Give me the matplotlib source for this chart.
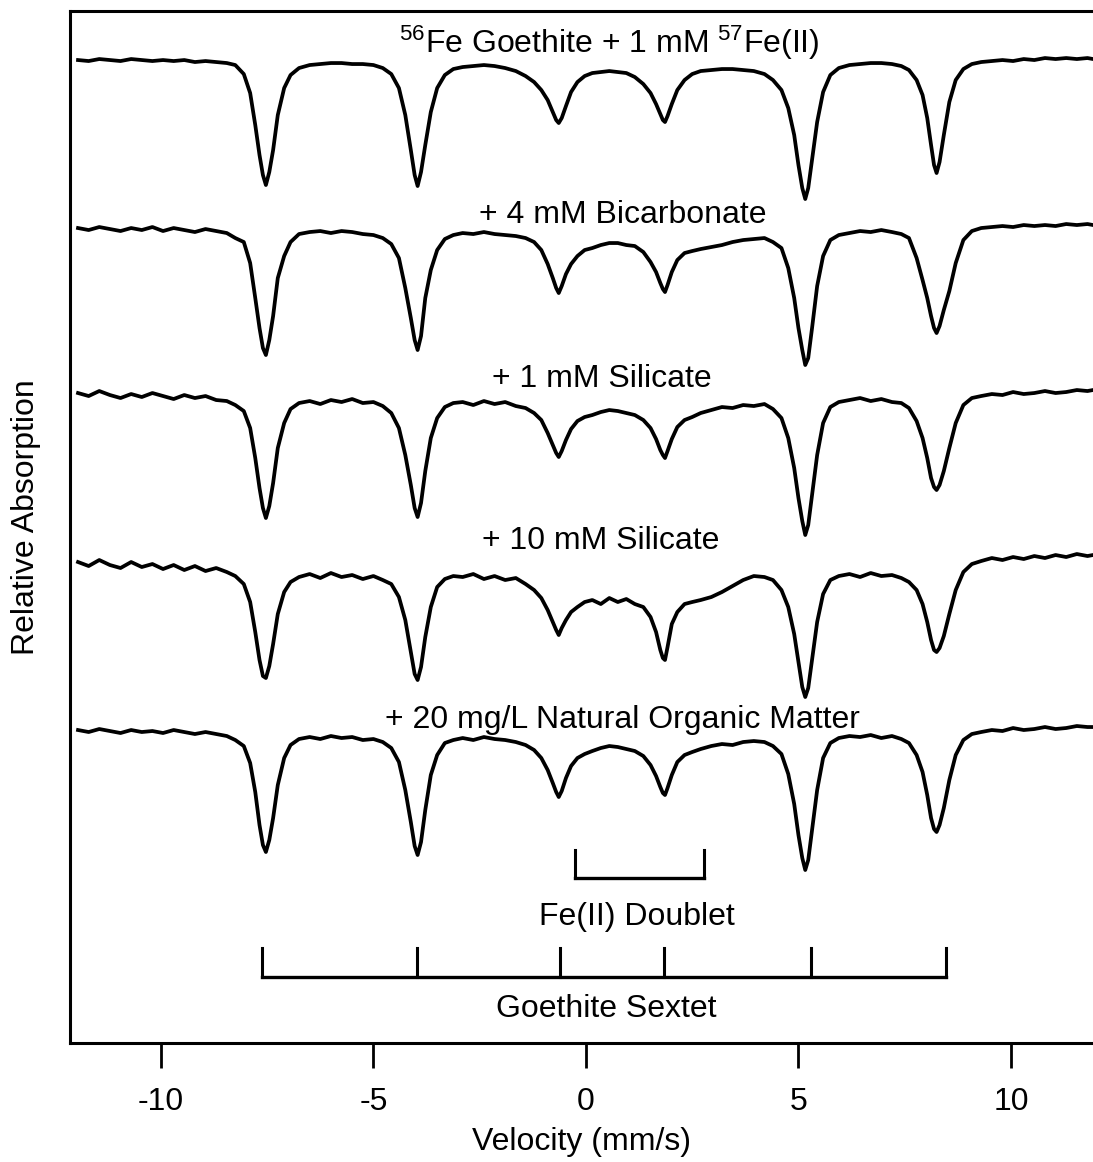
import numpy as np
import matplotlib
matplotlib.use("Agg")
import matplotlib.pyplot as plt

plt.rcParams['font.family'] = ['Liberation Sans', 'DejaVu Sans']
plt.rcParams['mathtext.fontset'] = 'custom'
plt.rcParams['mathtext.rm'] = 'Liberation Sans'
plt.rcParams['mathtext.it'] = 'Liberation Sans:italic'
plt.rcParams['axes.unicode_minus'] = False

# velocity grid (mm/s), denser around the absorption lines
velocity = [
    -11.95, -11.7, -11.45, -11.2, -10.95, -10.7, -10.45, -10.2, -9.95, -9.7, -9.45, -9.2, -8.95, -8.7, -8.45,
    -8.25, -8.05, -7.9, -7.78, -7.68, -7.6, -7.53, -7.45, -7.36, -7.25, -7.1, -6.95, -6.75,
    -6.5, -6.25, -6.0, -5.75, -5.5, -5.25, -5.0, -4.78,
    -4.58, -4.4, -4.25, -4.12, -4.03, -3.96, -3.88, -3.78, -3.65, -3.5, -3.32, -3.12,
    -2.9, -2.65, -2.4, -2.15, -1.9, -1.65, -1.42,
    -1.22, -1.05, -0.9, -0.78, -0.7, -0.64, -0.57, -0.47, -0.35, -0.2, -0.03,
    0.15, 0.35, 0.55, 0.75, 0.95, 1.15,
    1.35, 1.52, 1.65, 1.75, 1.81, 1.86, 1.92, 2.02, 2.15, 2.32, 2.5,
    2.7, 2.95, 3.2, 3.45, 3.7, 3.95, 4.2, 4.4,
    4.6, 4.76, 4.9, 5.0, 5.09, 5.16, 5.23, 5.32, 5.44, 5.58, 5.75, 5.95,
    6.2, 6.45, 6.7, 6.95, 7.2, 7.42, 7.6,
    7.78, 7.92, 8.03, 8.12, 8.19, 8.25, 8.32, 8.42, 8.55, 8.7, 8.88, 9.08,
    9.3, 9.55, 9.8, 10.05, 10.3, 10.55, 10.8, 11.05, 11.3, 11.55, 11.8, 11.93,
]

# relative absorption (arbitrary units x100) for each sample
goethite_fe2 = [
    0, 1, -1, 0, 1, -1, 0, 1, 0, 1, 0, 2, 1, 2, 3,
    5, 14, 33, 65, 95, 115, 125, 112, 90, 55, 28, 15, 8,
    5, 4, 3, 3, 4, 4, 5, 8,
    14, 28, 55, 90, 115, 126, 112, 85, 52, 28, 15, 9,
    7, 6, 5, 6, 8, 11, 16,
    22, 30, 40, 52, 60, 63, 58, 46, 32, 22, 16,
    13, 12, 11, 12, 13, 17,
    24, 33, 44, 54, 60, 62, 56, 44, 30, 20, 14,
    11, 10, 9, 9, 10, 11, 14, 20,
    30, 48, 75, 105, 128, 139, 128, 100, 62, 32, 15, 8,
    5, 4, 3, 3, 4, 6, 10,
    20, 35, 58, 85, 105, 113, 102, 75, 42, 20, 9, 4,
    2, 1, 0, 1, -1, 0, -2, -1, -2, -1, -2, -1,
]
bicarbonate = [
    0, 2, -1, 1, 3, 0, 2, -1, 3, 0, 2, 4, 1, 3, 5,
    10, 14, 35, 70, 100, 120, 127, 112, 88, 50, 28, 14, 6,
    4, 3, 5, 3, 4, 6, 7, 10,
    16, 30, 60, 90, 112, 122, 108, 70, 42, 22, 11, 7,
    5, 6, 4, 6, 7, 8, 10,
    14, 22, 36, 50, 60, 65, 58, 46, 36, 28, 22,
    20, 17, 15, 15, 17, 18,
    24, 34, 44, 55, 61, 64, 57, 44, 32, 25, 23,
    21, 19, 17, 14, 12, 11, 10, 14,
    20, 40, 70, 100, 122, 137, 130, 100, 58, 28, 12, 7,
    5, 3, 4, 2, 4, 6, 10,
    30, 52, 70, 88, 100, 105, 98, 82, 63, 35, 12, 3,
    0, -1, -2, -1, -3, -2, -3, -2, -4, -3, -4, -3,
]
silicate_1mM = [
    0, 3, -2, 2, 5, 1, 4, 0, 3, 6, 2, 5, 3, 7, 8,
    12, 18, 35, 65, 95, 115, 125, 113, 90, 55, 30, 16, 10,
    8, 11, 7, 9, 6, 10, 9, 13,
    20, 35, 62, 92, 115, 124, 110, 78, 45, 25, 14, 10,
    9, 12, 8, 11, 9, 13, 15,
    20, 27, 40, 52, 60, 64, 58, 47, 36, 28, 24,
    22, 19, 17, 18, 20, 22,
    27, 35, 46, 57, 62, 65, 58, 46, 34, 27, 24,
    20, 17, 14, 15, 12, 13, 11, 16,
    25, 45, 75, 105, 128, 142, 132, 102, 62, 30, 14, 9,
    7, 5, 8, 6, 9, 10, 15,
    28, 45, 65, 85, 94, 97, 92, 78, 55, 30, 12, 5,
    3, 1, 2, -1, 1, 0, -2, 0, -1, -3, -2, -3,
]
silicate_10mM = [
    0, 4, -2, 3, 6, 0, 5, 2, 7, 3, 8, 4, 9, 6, 10,
    14, 22, 40, 70, 98, 114, 116, 104, 82, 52, 30, 20, 15,
    12, 16, 11, 15, 13, 17, 14, 18,
    22, 35, 58, 90, 112, 118, 105, 75, 45, 25, 17, 14,
    15, 12, 17, 14, 18, 16, 22,
    28, 36, 48, 60, 68, 73, 66, 58, 50, 45, 40,
    38, 42, 36, 40, 37, 42,
    45, 55, 70, 88, 96, 98, 85, 62, 50, 42, 40,
    38, 35, 30, 24, 18, 14, 15, 18,
    28, 45, 72, 100, 125, 135, 126, 98, 60, 32, 18, 14,
    12, 15, 11, 14, 13, 16, 20,
    28, 42, 60, 78, 88, 90, 86, 74, 52, 28, 10, 2,
    -1, -4, -2, -5, -3, -6, -4, -7, -5, -8, -6, -7,
]
nom_20mgL = [
    0, 2, -1, 1, 3, 0, 2, 1, 3, 0, 2, 4, 2, 4, 6,
    10, 16, 33, 62, 95, 115, 122, 110, 88, 55, 28, 15, 9,
    7, 9, 6, 8, 7, 10, 9, 12,
    18, 32, 60, 92, 116, 125, 112, 80, 45, 25, 13, 10,
    8, 10, 7, 9, 10, 12, 15,
    20, 28, 40, 53, 62, 67, 61, 48, 36, 28, 24,
    21, 18, 16, 17, 19, 21,
    26, 35, 46, 57, 63, 65, 58, 45, 32, 25, 22,
    19, 16, 14, 15, 12, 11, 12, 16,
    24, 44, 74, 105, 128, 140, 130, 100, 60, 28, 13, 8,
    6, 7, 5, 8, 6, 9, 13,
    25, 42, 65, 88, 99, 102, 95, 78, 50, 25, 10, 4,
    2, 0, 1, -2, 0, -1, -3, -1, -2, -4, -3, -3,
]

spectra = [goethite_fe2, bicarbonate, silicate_1mM, silicate_10mM, nom_20mgL]
labels = [
    r"$^{56}$Fe Goethite + 1 mM $^{57}$Fe(II)",
    "+ 4 mM Bicarbonate",
    "+ 1 mM Silicate",
    "+ 10 mM Silicate",
    "+ 20 mg/L Natural Organic Matter",
]
label_x = [0.54, 0.87, 0.38, 0.35, 0.87]

doublet_lines = [-0.26, 2.78]
sextet_lines = [-7.62, -3.98, -0.61, 1.84, 5.29, 8.47]

# stacking offsets for the spectra and the label baselines
offsets = [-0.49, -2.17, -3.82, -5.51, -7.19]
label_y = [-0.42, -2.12, -3.76, -5.38, -7.17]

fig = plt.figure(figsize=(10.93, 11.62), dpi=100)
ax = fig.add_axes([0.064, 0.1024, 0.936, 0.8881])

v = np.array(velocity)
for spec, off in zip(spectra, offsets):
    ax.plot(v, off - np.array(spec) / 100.0, color='black', lw=2.7)

for txt, x, y in zip(labels, label_x, label_y):
    ax.text(x, y, txt, ha='center', va='baseline', fontsize=23)

# Fe(II) doublet bracket
ax.plot([doublet_lines[0], doublet_lines[1]], [-8.67, -8.67], color='black', lw=2.4)
for d in doublet_lines:
    ax.plot([d, d], [-8.67, -8.39], color='black', lw=2.2)
ax.text(np.mean(doublet_lines) - 0.05, -9.14, "Fe(II) Doublet", ha='center', va='baseline', fontsize=23)

# goethite sextet bracket
ax.plot([sextet_lines[0], sextet_lines[-1]], [-9.66, -9.66], color='black', lw=2.4)
for s in sextet_lines:
    ax.plot([s, s], [-9.66, -9.37], color='black', lw=2.2)
ax.text(0.47, -10.06, "Goethite Sextet", ha='center', va='baseline', fontsize=23)

ax.set_xlim(-12.14, 11.93)
ax.set_ylim(-10.32, 0)
ax.set_xticks([-10, -5, 0, 5, 10])
ax.set_yticks([])
ax.tick_params(axis='x', direction='out', length=18, width=2, labelsize=23, pad=14)
for side in ['left', 'top', 'bottom']:
    ax.spines[side].set_linewidth(2.2)
ax.spines['right'].set_visible(False)

ax.set_xlabel('Velocity (mm/s)', fontsize=23, labelpad=7)
ax.set_ylabel('Relative Absorption', fontsize=23)
ax.yaxis.set_label_coords(-0.028, 0.51)

fig.savefig('out.png', dpi=100)
